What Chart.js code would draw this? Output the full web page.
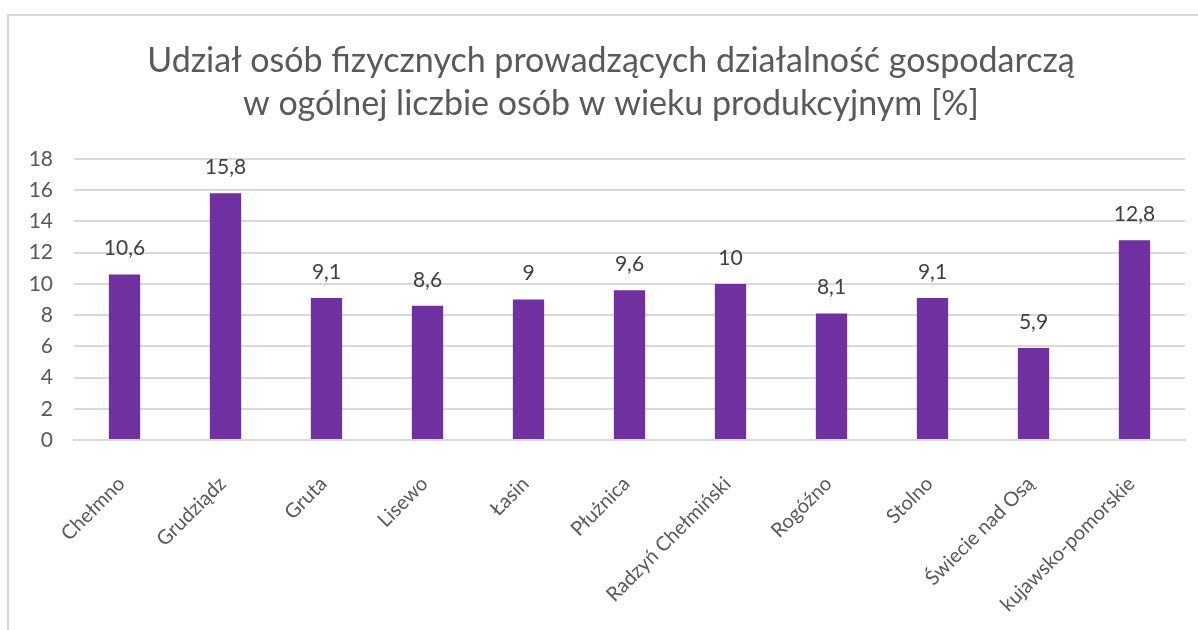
<!DOCTYPE html>
<html>
<head>
<meta charset="utf-8">
<script src="https://cdn.jsdelivr.net/npm/chart.js@4.4.1/dist/chart.umd.min.js"></script>
<style>
    html, body { margin: 0; padding: 0; background: #ffffff; overflow: hidden; }
    #frame { position: absolute; left: 7px; top: 14px; width: 1300px; height: 700px; border: 2px solid #d9d9d9; }
    #wrap { position: absolute; left: 0; top: 0; width: 1222px; height: 630px; }
</style>
</head>
<body>
<div id="frame"></div>
<div id="wrap"><canvas id="udzialChart"></canvas></div>
<script>
const gminy = ['Chełmno', 'Grudziądz', 'Gruta', 'Lisewo', 'Łasin', 'Płużnica', 'Radzyń Chełmiński', 'Rogóźno', 'Stolno', 'Świecie nad Osą', 'kujawsko-pomorskie'];
const udzial = [10.6, 15.8, 9.1, 8.6, 9, 9.6, 10, 8.1, 9.1, 5.9, 12.8];
const tytul = ['Udział osób fizycznych prowadzących działalność gospodarczą', 'w ogólnej liczbie osób w wieku produkcyjnym [%]'];

const formatPl = (v) => String(v).replace('.', ',');

// etykiety wartości nad słupkami
const etykietyPlugin = {
    id: 'etykiety',
    afterDatasetsDraw(chart) {
        const ctx = chart.ctx;
        const meta = chart.getDatasetMeta(0);
        ctx.save();
        ctx.font = '21px Lato';
        ctx.fillStyle = '#404040';
        ctx.textAlign = 'center';
        ctx.textBaseline = 'middle';
        meta.data.forEach((bar, i) => {
            ctx.fillText(formatPl(udzial[i]), bar.x, bar.y - 26);
        });
        ctx.restore();
    }
};

new Chart(document.getElementById('udzialChart').getContext('2d'), {
    type: 'bar',
    data: {
        labels: gminy,
        datasets: [{
            data: udzial,
            backgroundColor: '#7030a0',
            borderWidth: 0,
            barPercentage: 0.31,
            categoryPercentage: 1
        }]
    },
    options: {
        responsive: true,
        maintainAspectRatio: false,
        animation: false,
        layout: { padding: 0 },
        plugins: {
            legend: { display: false },
            tooltip: { enabled: false },
            title: {
                display: true,
                text: tytul,
                color: '#595959',
                font: { family: 'Lato', size: 34, weight: 'normal', lineHeight: 1.265 },
                padding: { top: 40, bottom: 33 }
            }
        },
        scales: {
            x: {
                grid: { display: false },
                border: { display: true, color: '#d9d9d9', width: 2 },
                ticks: {
                    color: '#595959',
                    font: { family: 'Lato', size: 20 },
                    minRotation: 45,
                    maxRotation: 45,
                    padding: 24,
                    labelOffset: -3,
                    autoSkip: false
                },
                afterFit(scale) { scale.height = 190; }
            },
            y: {
                min: 0,
                max: 18,
                grid: { color: '#d9d9d9', lineWidth: 2, drawTicks: false },
                border: { display: false },
                ticks: {
                    stepSize: 2,
                    color: '#595959',
                    font: { family: 'Lato', size: 21 },
                    padding: 21
                },
                afterFit(scale) { scale.width = 74; }
            },
            // pusty margines po prawej, żeby tytuł był wyśrodkowany jak w oryginale
            prawy: {
                type: 'linear',
                position: 'right',
                grid: { display: false },
                border: { display: false },
                ticks: { display: false },
                afterFit(scale) { scale.width = 37; }
            }
        }
    },
    plugins: [etykietyPlugin]
});
</script>
</body>
</html>
